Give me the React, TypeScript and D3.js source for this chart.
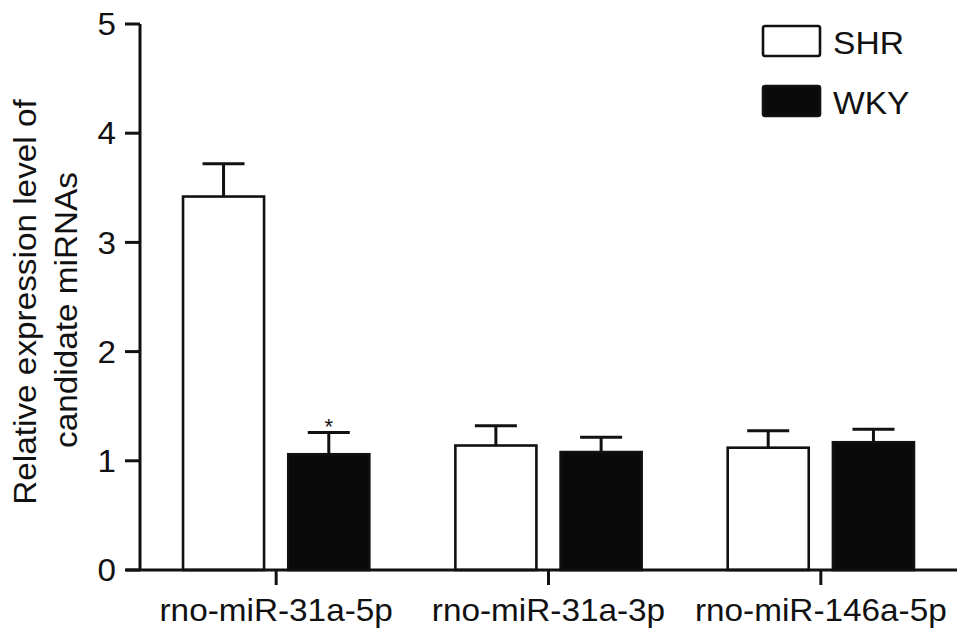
import React from "react";
import * as d3 from "d3";

const categories = ["rno-miR-31a-5p", "rno-miR-31a-3p", "rno-miR-146a-5p"];
const seriesNames = ["SHR", "WKY"];
const shrMeans = [3.42, 1.14, 1.12];
const shrErrors = [0.3, 0.18, 0.155];
const wkyMeans = [1.06, 1.08, 1.17];
const wkyErrors = [0.2, 0.135, 0.12];
const significance = ["", "", ""];
const wkySignificance = ["*", "", ""];
const yTicks = [0, 1, 2, 3, 4, 5];
const yLabelLines = ["Relative expression level of", "candidate miRNAs"];

const W = 969;
const H = 640;
const FONT = "'Liberation Sans', Arial, Helvetica, sans-serif";

export default function App() {
  const x0 = d3
    .scaleBand<string>()
    .domain(categories)
    .range([140, 957])
    .paddingInner(0.316)
    .paddingOuter(0.158);
  const x1 = d3
    .scaleBand<string>()
    .domain(seriesNames)
    .range([0, x0.bandwidth()])
    .paddingInner(0.23)
    .paddingOuter(0);
  const y = d3.scaleLinear().domain([0, 5]).range([570, 24]);

  const series = [
    { name: "SHR", means: shrMeans, errs: shrErrors, fill: "#fff", sig: significance },
    { name: "WKY", means: wkyMeans, errs: wkyErrors, fill: "#0a0a0a", sig: wkySignificance },
  ];
  const stroke = "#111";
  const capHalf = 21;

  return (
    <svg
      width={W}
      height={H}
      style={{ position: "absolute", left: 0, top: 0, background: "#fff" }}
      fontFamily={FONT}
    >
      <rect x={0} y={0} width={W} height={H} fill="#fff" />
      {/* bars */}
      {series.map((s) =>
        categories.map((c, i) => {
          const bx = (x0(c) as number) + (x1(s.name) as number);
          const bw = x1.bandwidth();
          const top = y(s.means[i]);
          const capY = y(s.means[i] + s.errs[i]);
          const cx = bx + bw / 2;
          return (
            <g key={s.name + c}>
              <line x1={cx} x2={cx} y1={top} y2={capY} stroke={stroke} strokeWidth={3} />
              <line x1={cx - capHalf} x2={cx + capHalf} y1={capY} y2={capY} stroke={stroke} strokeWidth={3} />
              <rect
                x={bx}
                y={top}
                width={bw}
                height={y(0) - top}
                fill={s.fill}
                stroke={stroke}
                strokeWidth={2.6}
              />
              {s.sig[i] ? (
                <text x={cx} y={capY + 2} fontSize={22} textAnchor="middle" fill={stroke}>
                  {s.sig[i]}
                </text>
              ) : null}
            </g>
          );
        })
      )}
      {/* y axis */}
      <line x1={140} x2={140} y1={y(5)} y2={y(0)} stroke={stroke} strokeWidth={3} />
      {yTicks.map((t) => (
        <g key={t}>
          <line x1={125} x2={140} y1={y(t)} y2={y(t)} stroke={stroke} strokeWidth={3} />
          <text
            transform={`translate(116,${y(t)}) scale(1.07,1)`}
            dy="0.36em"
            fontSize={31}
            textAnchor="end"
            fill={stroke}
          >
            {t}
          </text>
        </g>
      ))}
      {/* x axis */}
      <line x1={126} x2={957} y1={y(0)} y2={y(0)} stroke={stroke} strokeWidth={3} />
      {categories.map((c) => {
        const cx = (x0(c) as number) + x0.bandwidth() / 2;
        return (
          <g key={c}>
            <line x1={cx} x2={cx} y1={y(0)} y2={y(0) + 15} stroke={stroke} strokeWidth={3} />
            <text
              transform={`translate(${cx},621) scale(1.075,1)`}
              fontSize={31}
              textAnchor="middle"
              fill={stroke}
            >
              {c}
            </text>
          </g>
        );
      })}
      {/* y label */}
      <text
        transform="translate(36,302) rotate(-90) scale(1.075,1)"
        fontSize={31}
        textAnchor="middle"
        fill={stroke}
      >
        {yLabelLines[0]}
      </text>
      <text
        transform="translate(77,310) rotate(-90) scale(1.075,1)"
        fontSize={31}
        textAnchor="middle"
        fill={stroke}
      >
        {yLabelLines[1]}
      </text>
      {/* legend */}
      {series.map((s, i) => (
        <g key={s.name}>
          <rect
            x={763}
            y={26 + i * 60}
            width={57}
            height={30}
            rx={2}
            fill={s.fill}
            stroke={stroke}
            strokeWidth={2.6}
          />
          <text
            transform={`translate(833,${54 + i * 60}) scale(1.05,1)`}
            fontSize={32}
            fill={stroke}
          >
            {s.name}
          </text>
        </g>
      ))}
    </svg>
  );
}
